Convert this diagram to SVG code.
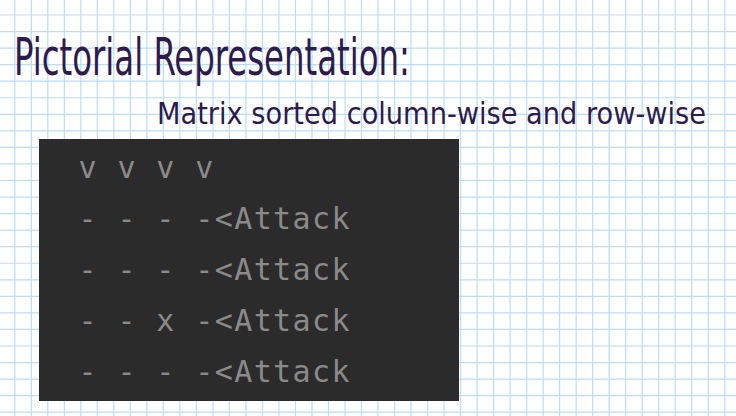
<svg xmlns="http://www.w3.org/2000/svg" width="736" height="416" viewBox="0 0 736 416">
  <style>
    .grid { stroke: #b9def6; }
    .hand { font-family: "Liberation Sans Narrow", "DejaVu Sans Condensed", "Liberation Sans", sans-serif; fill: #2e1b4e; }
    .code { font-family: "DejaVu Sans Mono", "Liberation Mono", monospace; font-size: 30px; letter-spacing: 1.4px; fill: #8a8a8a; white-space: pre; }
  </style>

  <!-- graph paper -->
  <rect width="736" height="416" fill="#ffffff"/>
  <g id="paper-grid">
    <!-- vertical rules: a tall dashed stroke gives evenly spaced 1px columns -->
    <line class="grid" x1="14.2" y1="208" x2="736" y2="208" stroke-width="416" stroke-dasharray="1.2 15.31"/>
    <!-- horizontal rules -->
    <line class="grid" x1="368" y1="14.4" x2="368" y2="416" stroke-width="736" stroke-dasharray="1.2 15.35"/>
  </g>

  <!-- handwritten heading -->
  <g id="title">
    <text class="hand" x="14" y="75" font-size="52" textLength="396" lengthAdjust="spacingAndGlyphs">Pictorial Representation:</text>
  </g>
  <g id="subtitle">
    <text class="hand" x="157" y="124" font-size="31" textLength="549" lengthAdjust="spacingAndGlyphs">Matrix sorted column-wise and row-wise</text>
  </g>

  <!-- console panel -->
  <g id="console">
    <rect x="39" y="139" width="420" height="262" fill="#2b2b2b"/>
    <text class="code" x="78.5" y="178" xml:space="preserve">v v v v</text>
    <text class="code" x="78.5" y="229" xml:space="preserve">- - - -&lt;Attack</text>
    <text class="code" x="78.5" y="280" xml:space="preserve">- - - -&lt;Attack</text>
    <text class="code" x="78.5" y="330.5" xml:space="preserve">- - x -&lt;Attack</text>
    <text class="code" x="78.5" y="381.5" xml:space="preserve">- - - -&lt;Attack</text>
  </g>
</svg>
